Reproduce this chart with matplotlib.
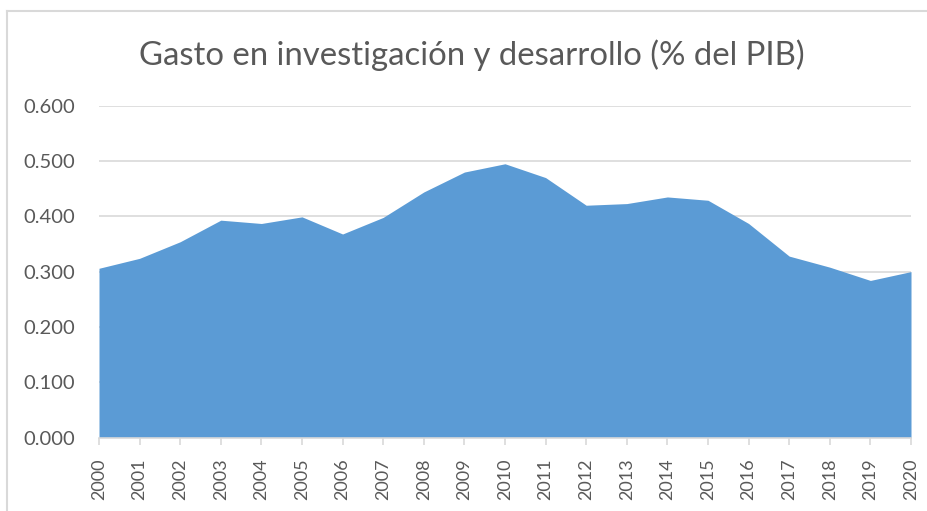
import matplotlib.pyplot as plt
import numpy as np

# data
years = [str(y) for y in range(2000, 2021)]
gasto = [0.306, 0.324, 0.354, 0.393, 0.387, 0.399, 0.368, 0.398, 0.444, 0.480,
         0.495, 0.470, 0.420, 0.423, 0.435, 0.429, 0.387, 0.328, 0.308, 0.284,
         0.300]
yticks = [0.0, 0.1, 0.2, 0.3, 0.4, 0.5, 0.6]

grey = "#595959"
plt.rcParams["font.family"] = ["Lato", "DejaVu Sans"]

fig = plt.figure(figsize=(9.28, 5.11), dpi=100)
ax = fig.add_axes([99 / 928, 1 - 437.5 / 511, (911 - 99) / 928, (437.5 - 105.7) / 511])

x = np.arange(len(years))
ax.fill_between(x, 0, gasto, color="#5b9bd5", linewidth=0, zorder=2)

ax.set_xlim(0, len(years) - 1)
ax.set_ylim(0, 0.6)
ax.set_yticks(yticks)
ax.set_yticklabels([f"{v:.3f}" for v in yticks])
ax.set_xticks(x)
ax.set_xticklabels(years, rotation=90)

ax.grid(axis="y", color="#d9d9d9", linewidth=1.2, zorder=1)
for s in ["top", "right", "left"]:
    ax.spines[s].set_visible(False)
ax.spines["bottom"].set_color("#d9d9d9")
ax.spines["bottom"].set_linewidth(1.2)
ax.spines["bottom"].set_zorder(3)

ax.tick_params(axis="y", length=0, labelsize=14.5, labelcolor=grey, pad=17)
ax.tick_params(axis="x", length=5, width=1.2, color="#d9d9d9",
               labelsize=13, labelcolor=grey, pad=10)

fig.text(472 / 928, 1 - 65 / 511, "Gasto en investigación y desarrollo (% del PIB)",
         ha="center", va="baseline", fontsize=23.7, color=grey)

# outer chart border (top and left edges visible)
fig.add_artist(plt.Line2D([7 / 928, 1], [1 - 11 / 511, 1 - 11 / 511],
                          color="#d9d9d9", linewidth=1.5))
fig.add_artist(plt.Line2D([7 / 928, 7 / 928], [0, 1 - 11 / 511],
                          color="#d9d9d9", linewidth=1.5))

fig.savefig("out.png", dpi=100, facecolor="white")
